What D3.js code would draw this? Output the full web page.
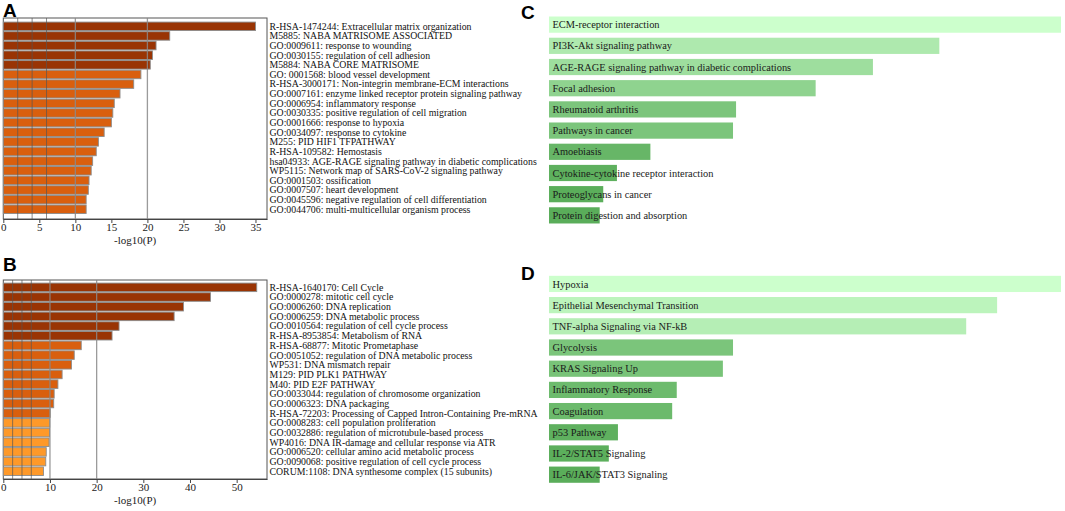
<!DOCTYPE html>
<html lang="en">
<head>
<meta charset="UTF-8">
<title>Enrichment</title>
<script src="https://d3js.org/d3.v7.min.js"></script>
<style>
    body { margin: 0; background: #fff; }
    svg { display: block; }
    .term { font-family: "Liberation Serif", "Times New Roman", Times, serif; font-size: 9.8px; fill: #111; }
    .tick text { font-family: "Liberation Serif", "Times New Roman", Times, serif; font-size: 11px; fill: #222; }
    .axisTitle { font-family: "Liberation Serif", "Times New Roman", Times, serif; font-size: 11px; fill: #222; }
    .panel { font-family: "Liberation Sans", Arial, sans-serif; font-weight: bold; font-size: 19px; fill: #000; }
    .pathway { font-family: "Liberation Serif", "Times New Roman", Times, serif; font-size: 10.4px; fill: #1a1a1a; }
</style>
</head>
<body>
<script>

    // Panel A - Metascape terms, -log10(P)
    var termsA = [
        "R-HSA-1474244: Extracellular matrix organization",
        "M5885: NABA MATRISOME ASSOCIATED",
        "GO:0009611: response to wounding",
        "GO:0030155: regulation of cell adhesion",
        "M5884: NABA CORE MATRISOME",
        "GO: 0001568: blood vessel development",
        "R-HSA-3000171: Non-integrin membrane-ECM interactions",
        "GO:0007161: enzyme linked receptor protein signaling pathway",
        "GO:0006954: inflammatory response",
        "GO:0030335: positive regulation of cell migration",
        "GO:0001666: response to hypoxia",
        "GO:0034097: response to cytokine",
        "M255: PID HIF1 TFPATHWAY",
        "R-HSA-109582: Hemostasis",
        "hsa04933: AGE-RAGE signaling pathway in diabetic complications",
        "WP5115: Network map of SARS-CoV-2 signaling pathway",
        "GO:0001503: ossification",
        "GO:0007507: heart development",
        "GO:0045596: negative regulation of cell differentiation",
        "GO:0044706: multi-multicellular organism process"
    ];
    var valuesA = [35.0, 23.1, 21.2, 20.7, 20.4, 19.1, 18.1, 16.2, 15.4, 15.2,
                   15.0, 14.0, 13.2, 12.9, 12.4, 12.2, 11.9, 11.8, 11.5, 11.5];
    var ticksA = [0, 5, 10, 15, 20, 25, 30, 35];

    // Panel B
    var termsB = [
        "R-HSA-1640170: Cell Cycle",
        "GO:0000278: mitotic cell cycle",
        "GO:0006260: DNA replication",
        "GO:0006259: DNA metabolic process",
        "GO:0010564: regulation of cell cycle process",
        "R-HSA-8953854: Metabolism of RNA",
        "R-HSA-68877: Mitotic Prometaphase",
        "GO:0051052: regulation of DNA metabolic process",
        "WP531: DNA mismatch repair",
        "M129: PID PLK1 PATHWAY",
        "M40: PID E2F PATHWAY",
        "GO:0033044: regulation of chromosome organization",
        "GO:0006323: DNA packaging",
        "R-HSA-72203: Processing of Capped Intron-Containing Pre-mRNA",
        "GO:0008283: cell population proliferation",
        "GO:0032886: regulation of microtubule-based process",
        "WP4016: DNA IR-damage and cellular response via ATR",
        "GO:0006520: cellular amino acid metabolic process",
        "GO:0090068: positive regulation of cell cycle process",
        "CORUM:1108: DNA synthesome complex (15 subunits)"
    ];
    var valuesB = [54.3, 44.4, 38.6, 36.6, 24.8, 23.3, 16.7, 15.2, 14.6, 12.6,
                   11.7, 10.9, 10.8, 10.05, 9.95, 9.9, 9.8, 9.2, 9.1, 8.6];
    var ticksB = [0, 10, 20, 30, 40, 50];

    var gridLines = [2, 4, 6, 10, 20];

    // Panel C - KEGG
    var pathwaysC = [
        "ECM-receptor interaction",
        "PI3K-Akt signaling pathway",
        "AGE-RAGE signaling pathway in diabetic complications",
        "Focal adhesion",
        "Rheumatoid arthritis",
        "Pathways in cancer",
        "Amoebiasis",
        "Cytokine-cytokine receptor interaction",
        "Proteoglycans in cancer",
        "Protein digestion and absorption"
    ];
    var valuesC = [10.1, 7.7, 6.39, 5.26, 3.69, 3.63, 2.0, 1.34, 1.07, 1.0];

    // Panel D - Hallmark
    var pathwaysD = [
        "Hypoxia",
        "Epithelial Mesenchymal Transition",
        "TNF-alpha Signaling via NF-kB",
        "Glycolysis",
        "KRAS Signaling Up",
        "Inflammatory Response",
        "Coagulation",
        "p53 Pathway",
        "IL-2/STAT5 Signaling",
        "IL-6/JAK/STAT3 Signaling"
    ];
    var valuesD = [10.1, 8.84, 8.23, 3.63, 3.43, 2.52, 2.43, 1.36, 1.18, 1.0];

    var width = 1065;
    var height = 511;

    var svg = d3.select("body").append("svg")
        .attr("width", width)
        .attr("height", height);

    function barColor(v) {
        if (v >= 20) return "#993404";
        if (v >= 10) return "#d95f0e";
        return "#fe9929";
    }

    function drawEnrich(terms, values, ticks, xMax, top, bottom, bandTop, bandBottom) {
        var left = 3.3, right = 267;
        var g = svg.append("g");

        var x = d3.scaleLinear().domain([0, xMax]).range([left, right]);
        var y = d3.scaleBand()
            .domain(terms)
            .range([bandTop, bandBottom])
            .paddingInner(0.12)
            .paddingOuter(0.05);

        g.append("rect")
            .attr("x", left)
            .attr("y", top)
            .attr("width", right - left)
            .attr("height", bottom - top)
            .attr("fill", "none")
            .attr("stroke", "#555")
            .attr("stroke-width", 1);

        g.selectAll(".bar")
            .data(values)
            .enter()
            .append("rect")
            .attr("class", "bar")
            .attr("x", x(0))
            .attr("y", function (d, i) { return y(terms[i]); })
            .attr("width", function (d) { return x(d) - x(0); })
            .attr("height", y.bandwidth())
            .attr("fill", function (d) { return barColor(d); })
            .attr("stroke", "#8c8c8c")
            .attr("stroke-width", 0.9);

        g.selectAll(".grid")
            .data(gridLines)
            .enter()
            .append("line")
            .attr("class", "grid")
            .attr("x1", function (d) { return x(d); })
            .attr("x2", function (d) { return x(d); })
            .attr("y1", top)
            .attr("y2", bottom)
            .attr("stroke", function (d) { return d >= 10 ? "#8a8a8a" : "#555"; })
            .attr("stroke-width", function (d) { return d >= 10 ? 1.3 : 0.8; })
            .attr("stroke-opacity", 0.85);

        var axis = g.append("g")
            .attr("transform", "translate(0," + bottom + ")")
            .call(d3.axisBottom(x).tickValues(ticks).tickSize(4).tickSizeOuter(0).tickPadding(0));
        axis.select(".domain").attr("stroke", "#444");
        axis.selectAll(".tick line").attr("stroke", "#444");

        g.append("text")
            .attr("class", "axisTitle")
            .attr("x", (left + right) / 2)
            .attr("y", bottom + 25)
            .attr("text-anchor", "middle")
            .text("-log10(P)");

        g.selectAll(".term")
            .data(terms)
            .enter()
            .append("text")
            .attr("class", "term")
            .attr("x", 269.5)
            .attr("y", function (d) { return y(d) + y.bandwidth() / 2 + 3.4; })
            .text(function (d) { return d; });
    }

    drawEnrich(termsA, valuesA, ticksA, 36.6, 18, 219, 21.6, 214);
    drawEnrich(termsB, valuesB, ticksB, 56.5, 280, 479, 282.6, 476);

    // KEGG / Hallmark bars share one colour scale
    var greenColor = d3.scaleLinear()
        .domain([1.0, 10.1])
        .range(["#5aad5a", "#ccffcc"]);

    function drawPathways(names, values, bandTop, bandBottom) {
        var g = svg.append("g");
        var x = d3.scaleLinear().domain([0, 10.1]).range([549, 1061]);
        var y = d3.scaleBand()
            .domain(names)
            .range([bandTop, bandBottom])
            .paddingInner(0.235)
            .paddingOuter(0.1);

        g.selectAll("rect")
            .data(values)
            .enter()
            .append("rect")
            .attr("x", x(0))
            .attr("y", function (d, i) { return y(names[i]); })
            .attr("width", function (d) { return x(d) - x(0); })
            .attr("height", y.bandwidth())
            .attr("fill", function (d) { return greenColor(d); });

        g.selectAll(".pathway")
            .data(names)
            .enter()
            .append("text")
            .attr("class", "pathway")
            .attr("x", 552.5)
            .attr("y", function (d) { return y(d) + y.bandwidth() / 2 + 3.6; })
            .text(function (d) { return d; });
    }

    drawPathways(pathwaysC, valuesC, 14.4, 225.6);
    drawPathways(pathwaysD, valuesD, 273.7, 484.9);

    svg.append("text").attr("class", "panel").attr("x", 3).attr("y", 17).text("A");
    svg.append("text").attr("class", "panel").attr("x", 3).attr("y", 271).text("B");
    svg.append("text").attr("class", "panel").attr("x", 521).attr("y", 19).text("C");
    svg.append("text").attr("class", "panel").attr("x", 521).attr("y", 280).text("D");

</script>
</body>
</html>
